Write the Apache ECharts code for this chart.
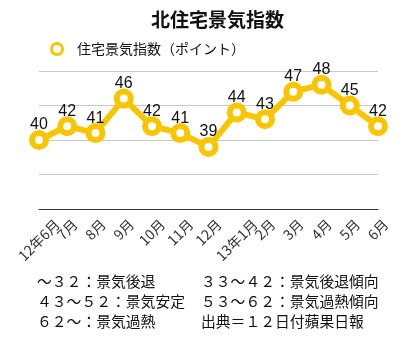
<!DOCTYPE html>
<html><head><meta charset="utf-8">
<script src="https://cdn.jsdelivr.net/npm/echarts@6/dist/echarts.min.js"></script>
<style>html,body{margin:0;padding:0;background:#fff}#c{width:397px;height:340px}</style>
</head><body><div id="c"></div>
<script>
const categories = ['12年6月','7月','8月','9月','10月','11月','12月','13年1月','2月','3月','4月','5月','6月'];
const values = [40,42,41,46,42,41,39,44,43,47,48,45,42];
const seriesName = '住宅景気指数（ポイント）';
const titleText = '北住宅景気指数';
const notesLeft = ['～３２：景気後退','４３～５２：景気安定','６２～：景気過熱'];
const notesRight = ['３３～４２：景気後退傾向','５３～６２：景気過熱傾向','出典＝１２日付蘋果日報'];

const FONT = '"Noto Sans CJK JP", "Noto Sans", sans-serif';
const YEL = '#F8C500';
const LABEL_SIZE = 14;
const AXIS_MARGIN = 4;
const LABEL_TOP_GAP = 8;

// rotate each label about its centre (centred on its tick) and top-align the rotated boxes
const ctx = document.createElement('canvas').getContext('2d');
ctx.font = LABEL_SIZE + 'px ' + FONT;
const axisData = categories.map(c => {
  const L = ctx.measureText(c).width;
  const D = LABEL_TOP_GAP - AXIS_MARGIN + (L + LABEL_SIZE) / (2 * Math.SQRT2);
  const pt = Math.max(0, D / Math.SQRT2 - LABEL_SIZE / 2);
  const pr = Math.SQRT2 * D;
  return { value: c, textStyle: { align: 'center', verticalAlign: 'top', padding: [pt, pr, 0, 0] } };
});

const chart = echarts.init(document.getElementById('c'));
const noteY = [282, 302, 322];
const graphics = [];
notesLeft.forEach((t,i)=>graphics.push({type:'text',left:37,top:noteY[i]-8,style:{text:t,font:'14.8px '+FONT,fill:'#111'}}));
notesRight.forEach((t,i)=>graphics.push({type:'text',left:201,top:noteY[i]-8,style:{text:t,font:'14.8px '+FONT,fill:'#111'}}));
chart.setOption({
  animation:false,
  title:{text:titleText,left:146,top:5,textStyle:{fontFamily:FONT,fontSize:19,fontWeight:'bold',color:'#111'}},
  legend:{data:[seriesName],left:45,top:37,itemWidth:20,itemHeight:11,icon:'circle',
    itemStyle:{color:'#fff',borderColor:YEL,borderWidth:3},
    textStyle:{fontFamily:FONT,fontSize:14,color:'#111',padding:[0,0,0,5]}},
  grid:{left:39,right:19,top:71,bottom:131,containLabel:false,outerBoundsMode:'none'},
  xAxis:{type:'category',data:axisData,boundaryGap:false,
    axisLine:{lineStyle:{color:'#333',width:1}},axisTick:{show:false},
    axisLabel:{rotate:45,interval:0,margin:AXIS_MARGIN,
      fontFamily:FONT,fontSize:LABEL_SIZE,lineHeight:LABEL_SIZE,color:'#333'}},
  yAxis:{type:'value',min:30,max:50,interval:5,axisLabel:{show:false},axisLine:{show:false},axisTick:{show:false},
    splitLine:{lineStyle:{color:'#c8c8c8',width:1}}},
  series:[{name:seriesName,type:'line',data:values,symbol:'circle',symbolSize:14,
    lineStyle:{color:YEL,width:6},
    itemStyle:{color:'#fff',borderColor:YEL,borderWidth:6},
    label:{show:true,position:'top',distance:-3,fontFamily:'"Liberation Sans", Arial, sans-serif',fontSize:16,color:'#111'}}],
  graphic:graphics
});
</script></body></html>
